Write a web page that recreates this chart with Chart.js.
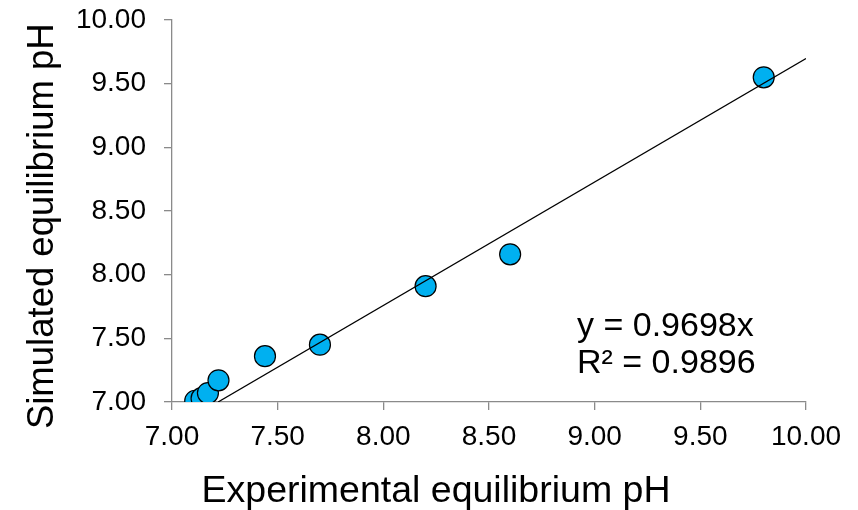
<!DOCTYPE html>
<html>
<head>
<meta charset="utf-8">
<script src="https://cdn.jsdelivr.net/npm/chart.js@4.4.1/dist/chart.umd.min.js"></script>
<style>
  html, body { margin: 0; padding: 0; background: #fff; }
  #wrap { width: 858px; height: 510px; }
</style>
</head>
<body>
<div id="wrap"><canvas id="phChart" width="858" height="510"></canvas></div>
<script>
// measured vs simulated equilibrium pH
const experimentalPH = [7.11, 7.14, 7.17, 7.22, 7.44, 7.70, 8.20, 8.60, 9.80];
const simulatedPH = [7.01, 7.03, 7.07, 7.17, 7.36, 7.45, 7.91, 8.16, 9.55];
const axisTicks = [7.00, 7.50, 8.00, 8.50, 9.00, 9.50, 10.00];
const trendSlope = 0.9698;
const rSquared = 0.9896;

const axisMin = 7, axisMax = 10;
const fontFamily = '"Liberation Sans", Arial, sans-serif';
const axisGray = '#8a8a8a';

var points = experimentalPH.map((x, i) => ({ x: x, y: simulatedPH[i] }));
// trendline y = slope * x, clipped to plot box
var trend = [
    { x: axisMin / trendSlope, y: axisMin },
    { x: axisMax, y: axisMax * trendSlope }
];

// equation text drawn on top
const equationLabel = {
    id: 'equationLabel',
    afterDraw(chart) {
        const ctx = chart.ctx;
        ctx.save();
        ctx.font = '34px ' + fontFamily;
        ctx.fillStyle = '#000';
        ctx.textAlign = 'left';
        ctx.textBaseline = 'alphabetic';
        ctx.fillText('y = ' + trendSlope.toFixed(4) + 'x', 577, 336);
        ctx.fillText('R\u00b2 = ' + rSquared.toFixed(4), 577, 373);
        ctx.restore();
    }
};

function setTicks(scale) {
    scale.ticks = axisTicks.map(v => ({ value: v }));
}

var ctx = document.getElementById('phChart').getContext('2d');
var phChart = new Chart(ctx, {
    type: 'scatter',
    data: {
        datasets: [
            {
                type: 'line',
                label: 'Trend',
                data: trend,
                borderColor: '#000',
                borderWidth: 1.3,
                pointRadius: 0,
                fill: false
            },
            {
                label: 'pH',
                data: points,
                backgroundColor: '#00b0f0',
                borderColor: '#000',
                borderWidth: 1.2,
                pointRadius: 10.5,
                pointHoverRadius: 10.5
            }
        ]
    },
    options: {
        responsive: false,
        animation: false,
        devicePixelRatio: 1,
        layout: { padding: { top: 20, right: 0, left: 14, bottom: 0 } },
        plugins: {
            legend: { display: false },
            tooltip: { enabled: false },
            title: {
                display: true,
                position: 'bottom',
                text: 'Experimental equilibrium pH',
                color: '#000',
                font: { family: fontFamily, size: 37.5, weight: 'normal', lineHeight: 1.0 },
                padding: { top: 4, bottom: 0 }
            }
        },
        scales: {
            x: {
                type: 'linear',
                min: axisMin,
                max: axisMax,
                afterBuildTicks: setTicks,
                afterFit(scale) { scale.height = 66.5; },
                grid: { drawOnChartArea: false, drawTicks: true, tickLength: 8, color: axisGray, lineWidth: 1.3 },
                border: { color: axisGray, width: 1.3 },
                ticks: {
                    color: '#000',
                    padding: 10,
                    maxRotation: 0,
                    font: { family: fontFamily, size: 28 },
                    callback: v => v.toFixed(2)
                }
            },
            y: {
                type: 'linear',
                min: axisMin,
                max: axisMax,
                afterBuildTicks: setTicks,
                afterFit(scale) {
                    scale.width = 158;
                    // don't let label overflow push the plot down
                    scale.paddingTop = 0;
                    scale.paddingBottom = 0;
                },
                grid: { drawOnChartArea: false, drawTicks: true, tickLength: 8, color: axisGray, lineWidth: 1.3 },
                border: { color: axisGray, width: 1.3 },
                title: {
                    display: true,
                    text: 'Simulated equilibrium pH   ',
                    color: '#000',
                    font: { family: fontFamily, size: 36.5, weight: 'normal', lineHeight: 1.1 },
                    padding: { top: 9, bottom: 0 }
                },
                ticks: {
                    color: '#000',
                    padding: 18,
                    font: { family: fontFamily, size: 28 },
                    callback: v => v.toFixed(2)
                }
            },
            // empty right-hand strip so the plot ends at x = 806
            spacer: {
                type: 'linear',
                position: 'right',
                afterFit(scale) { scale.width = 52; },
                grid: { display: false },
                border: { display: false },
                ticks: { display: false }
            }
        }
    },
    plugins: [equationLabel]
});
</script>
</body>
</html>
